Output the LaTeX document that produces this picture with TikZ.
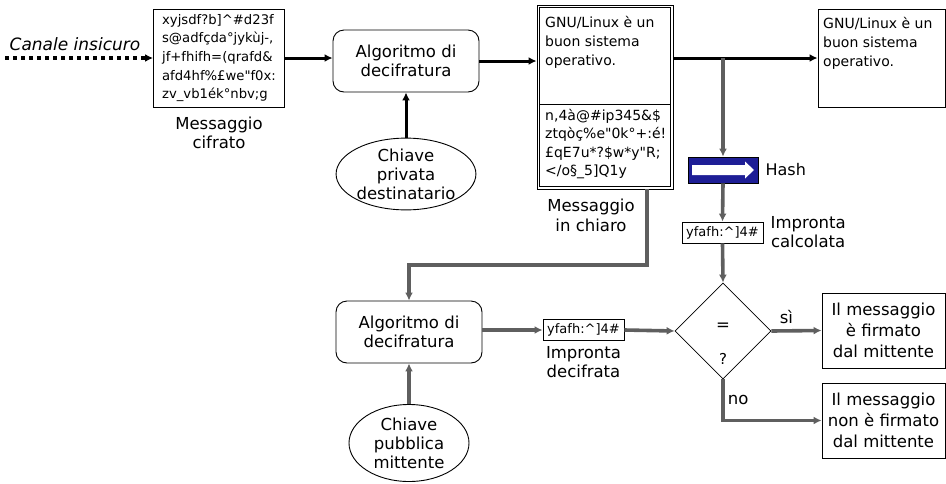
\documentclass[tikz,border=0pt]{standalone}
\usepackage{fontspec}
\setmainfont{DejaVu Sans}[Ligatures=TeXOff]
\usetikzlibrary{arrows.meta,shapes.geometric,positioning}
\definecolor{hashblue}{RGB}{30,30,150}
\definecolor{flowgrey}{RGB}{95,95,95}

\begin{document}
\begin{tikzpicture}[x=1pt,y=-1pt,>={Latex[length=8pt,width=8pt]},
  lbl/.style={font=\fontsize{16.5}{19}\selectfont,align=center,inner sep=0pt,text=black},
  code/.style={font=\fontsize{13.2}{18.6}\selectfont,align=left,inner sep=0pt},
  plain/.style={code,font=\fontsize{14}{19}\selectfont},
  tag/.style={draw,line width=0.9pt,font=\fontsize{13}{14}\selectfont,
              minimum width=81pt,minimum height=21pt,inner sep=0pt},
  box/.style={draw,line width=0.9pt,inner sep=0pt},
  algo/.style={lbl,draw,line width=0.9pt,rounded corners=11pt,
               minimum width=146pt,minimum height=62pt},
  key/.style={lbl,draw,ellipse,line width=0.9pt},
  flow/.style={->,line width=3pt,black},
  gflow/.style={->,line width=3.6pt,flowgrey}]
  \useasboundingbox (0,0) rectangle (946,483);

  % ---- receiving side: cipher text, decryption, plain text ----------------
  \node[box,code,minimum width=131pt,minimum height=98pt] (cifr) at (219,58)
        {xyjsdf?b]\^{}\#d23f\\s@adfçda°jykùj-,\\jf+fhifh=(qrafd\&\\
         afd4hf\%£we"f0x:\\zv\_vb1ék°nbv;g};
  \node[lbl,below=9pt of cifr] (cifrLbl) {Messaggio\\cifrato};
  \node[lbl,font=\fontsize{17}{19}\selectfont\itshape] (canale) at (75,44)
        {Canale insicuro};
  \coordinate (inizio) at (5,58);
  \draw[->,line width=3.5pt,dash pattern=on 3.5pt off 4.5pt] (inizio) -- (cifr.west);

  \node[algo] (alg1) at (406,61) {Algoritmo di\\decifratura};
  \node[key,minimum width=118pt,minimum height=68pt] (key1) at (406,174)
        {Chiave\\privata\\destinatario};
  \draw[flow] (cifr.east) -- (cifr.east -| alg1.west);
  \draw[flow] (key1.north) -- (alg1.south);

  \node[box,minimum width=136pt,minimum height=184pt] (chiaro) at (605,97) {};
  \draw[line width=0.9pt] ([shift={(3,3)}]chiaro.north west)
        rectangle ([shift={(-3,-3)}]chiaro.south east);
  \coordinate (div) at (605,104);
  \draw[line width=0.9pt] ([xshift=3pt]div -| chiaro.west)
        -- ([xshift=-3pt]div -| chiaro.east);
  \node[plain,anchor=north west] (chiaroTxt) at (545,16)
        {GNU/Linux è un\\buon sistema\\operativo.};
  \node[plain,anchor=north west,font=\fontsize{14}{18.4}\selectfont] (chiaroHash)
        at (545,109)
        {n,4à@\#ip345\&\$\\ztqòç\%e"0k°+:é!\\£qE7u*?\$w*y"R;\\</o§\_5]Q1y};
  \node[lbl,font=\fontsize{16.5}{20}\selectfont] (chiaroLbl) at (591,215)
        {Messaggio\\in chiaro};
  \draw[flow] (alg1.east) -- (alg1.east -| chiaro.west);

  % ---- copy of the plain text and its hash ------------------------------
  \node[box,minimum width=127pt,minimum height=98pt] (out) at (881.5,58) {};
  \node[plain,anchor=north west] (outTxt) at (823,17)
        {GNU/Linux è un\\buon sistema\\operativo.};
  \coordinate (split) at (723,58);
  \draw[flow] (split -| chiaro.east) -- (split -| out.west);

  \node[draw,fill=hashblue,line width=0.8pt,minimum width=70pt,
        minimum height=26pt,inner sep=0pt] (hash) at (723,170) {};
  \begin{scope}[shift={(hash.center)}]
    \fill[white] (-31,-5) -- (22,-5) -- (22,-8.5) -- (31,0) -- (22,8.5)
                 -- (22,5) -- (-31,5) -- cycle;
  \end{scope}
  \node[lbl,font=\fontsize{16}{19}\selectfont,right=7pt of hash] (hashLbl) {Hash};
  \draw[gflow] (split) -- (hash.north);

  \node[tag] (calc) at (722.5,232.5) {yfafh:\^{}]4\#};
  \node[lbl,right=7pt of calc] (calcLbl) {Impronta\\calcolata};
  \draw[gflow] (hash.south) -- (calc.north);

  % ---- sender's signature: decryption with the public key ----------------
  \coordinate (giro) at (647,265);
  \node[algo] (alg2) at (409,332) {Algoritmo di\\decifratura};
  \node[key,minimum width=120pt,minimum height=77pt] (key2) at (409,443)
        {Chiave\\pubblica\\mittente};
  \draw[gflow] (giro |- chiaro.south) -- (giro) -| (alg2.north);
  \draw[gflow] (key2.north) -- (alg2.south);

  \node[tag] (dec) at (583.5,330) {yfafh:\^{}]4\#};
  \node[lbl,below=5pt of dec] (decLbl) {Impronta\\decifrata};
  \draw[gflow] (alg2.east |- dec) -- (dec.west);

  % ---- comparison ---------------------------------------------------------
  \node[draw,diamond,line width=0.8pt,minimum width=96pt,minimum height=96pt,
        inner sep=0pt] (cmp) at (723,331) {};
  \node[lbl] (uguale) at (723,327) {=};
  \node[lbl,font=\fontsize{15}{17}\selectfont] (domanda) at (723,359) {?};
  \draw[gflow] (calc.south) -- (cmp.north);
  \draw[gflow] (dec.east) -- (cmp.west);

  \node[box,lbl,font=\fontsize{16.5}{20.8}\selectfont,minimum width=123pt,
        minimum height=75pt] (si) at (883.5,330.5)
        {Il messaggio\\è firmato\\dal mittente};
  \node[box,lbl,font=\fontsize{16.5}{20.8}\selectfont,minimum width=123pt,
        minimum height=75pt] (no) at (883.5,420.5)
        {Il messaggio\\non è firmato\\dal mittente};
  \draw[gflow] (cmp.east) -- (si.west)
        node[lbl,pos=0.3,above=5pt] (siLbl) {sì};
  \draw[gflow] (cmp.south) |- (no.west)
        node[lbl,pos=0.25,right=3pt] (noLbl) {no};
\end{tikzpicture}
\end{document}
